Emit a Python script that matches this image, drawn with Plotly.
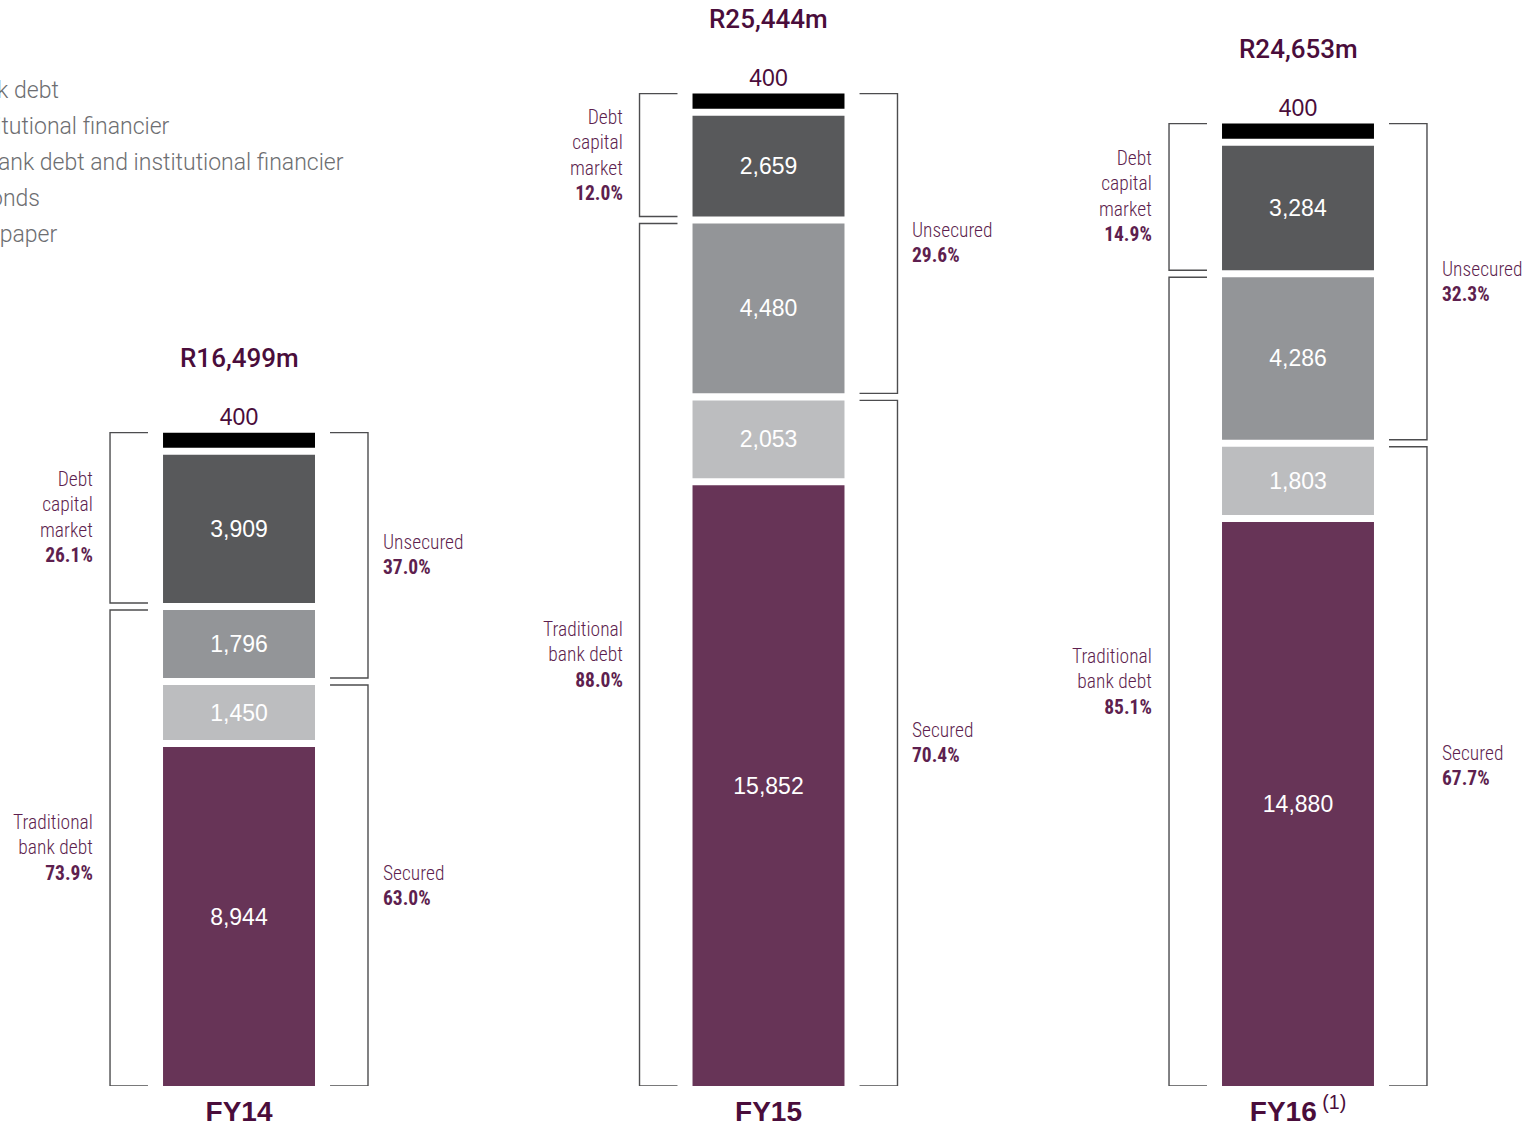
import plotly.graph_objects as go

# Funding mix by financial year (Rm), segments listed bottom to top
years = ["FY14", "FY15", "FY16"]
year_labels = ["<b>FY14</b>", "<b>FY15</b>", "<b>FY16</b><sup> (1)</sup>"]
secured_bank_debt = [8944, 15852, 14880]
secured_institutional = [1450, 2053, 1803]
unsecured_bank_institutional = [1796, 4480, 4286]
bonds = [3909, 2659, 3284]
commercial_paper = [400, 400, 400]

series_names = [
    "Secured bank debt",
    "Secured institutional financier",
    "Unsecured bank debt and institutional financier",
    "Corporate bonds",
    "Commercial paper",
]
series_values = [secured_bank_debt, secured_institutional,
                 unsecured_bank_institutional, bonds, commercial_paper]
series_colors = ["#673457", "#bcbdbf", "#939598", "#58595b", "#000000"]

# white separation between stacked segments, in value units
SEGMENT_GAP = 185
Y_MAX = 28654
BAR_WIDTH = 0.287

PURPLE_TEXT = "#5e1f4f"
PURPLE_DARK = "#4a0d3b"
NARROW = "Roboto Condensed, Liberation Sans Narrow, Arial Narrow, sans-serif"
SANS = "Liberation Sans, Arial, Helvetica, sans-serif"

xs = list(range(len(years)))
n_series = len(series_values)

# bases of each segment (cumulative values plus gaps)
bases = []
running = [0] * len(years)
for k, vals in enumerate(series_values):
    bases.append([running[i] + k * SEGMENT_GAP for i in xs])
    running = [running[i] + vals[i] for i in xs]
totals = running
stack_tops = [totals[i] + (n_series - 1) * SEGMENT_GAP for i in xs]

fig = go.Figure()
for k, (name, vals, col) in enumerate(zip(series_names, series_values, series_colors)):
    is_top = k == n_series - 1
    fig.add_trace(go.Bar(
        x=xs, y=vals, base=bases[k], name=name, width=BAR_WIDTH,
        marker=dict(color=col, line=dict(width=0)),
        text=vals, texttemplate="%{text:,}",
        textposition="outside" if is_top else "inside",
        insidetextanchor="middle",
        textfont=dict(family=SANS, size=23,
                      color=PURPLE_DARK if is_top else "white"),
        cliponaxis=False,
        legendgroup=name,
    ))

# brackets and their captions
L_OUT, L_IN, R_IN, R_OUT = -0.2436, -0.1719, 0.1719, 0.2436
L_TEXT, R_TEXT = -0.2715, 0.2676
shapes = []
annotations = []


def bracket(x_tick, x_vert, y_top, y_bot):
    shapes.append(dict(
        type="path", xref="x", yref="y",
        path=f"M {x_tick},{y_top} L {x_vert},{y_top} L {x_vert},{y_bot} L {x_tick},{y_bot}",
        line=dict(color="#4d4d4f", width=1.4),
    ))


def caption(x, y, words, pct, anchor):
    text = "<br>".join(words + [f"<b>{pct:.1f}%</b>"])
    annotations.append(dict(
        x=x, y=y, xref="x", yref="y", text=text, showarrow=False,
        xanchor=anchor, yanchor="middle", align=anchor,
        font=dict(family=NARROW, size=19.5, color=PURPLE_TEXT, weight=300),
    ))


for i in xs:
    v0, v1, v2, v3, v4 = (s[i] for s in series_values)
    top = stack_tops[i]
    total = totals[i]

    dcm_bot = bases[3][i]
    trad_top = bases[2][i] + v2
    unsec_bot = bases[2][i]
    sec_top = bases[1][i] + v1

    bracket(i + L_IN, i + L_OUT, top, dcm_bot)
    bracket(i + L_IN, i + L_OUT, trad_top, 0)
    bracket(i + R_IN, i + R_OUT, top, unsec_bot)
    bracket(i + R_IN, i + R_OUT, sec_top, 0)

    caption(i + L_TEXT, (top + dcm_bot) / 2, ["Debt", "capital", "market"],
            100 * (v3 + v4) / total, "right")
    caption(i + L_TEXT, trad_top / 2, ["Traditional", "bank debt"],
            100 * (v0 + v1 + v2) / total, "right")
    caption(i + R_TEXT, (top + unsec_bot) / 2, ["Unsecured"],
            100 * (v2 + v3 + v4) / total, "left")
    caption(i + R_TEXT, sec_top / 2, ["Secured"],
            100 * (v0 + v1) / total, "left")

    annotations.append(dict(
        x=i, y=top, xref="x", yref="y", text=f"R{total:,}m", showarrow=False,
        xanchor="center", yanchor="middle", yshift=75,
        font=dict(family="Roboto, " + SANS, size=26, color=PURPLE_DARK, weight=500),
    ))

fig.update_layout(
    width=1526, height=1126,
    margin=dict(l=0, r=0, t=0, b=40, autoexpand=False),
    paper_bgcolor="white", plot_bgcolor="white",
    barmode="overlay",
    shapes=shapes, annotations=annotations,
    showlegend=True,
    legend=dict(
        x=-0.1104, y=1 - 68 / 1086, xanchor="left", yanchor="top",
        traceorder="grouped", tracegroupgap=3,
        font=dict(family="Roboto, " + SANS, size=23, color="#6d6e71", weight=300),
        bgcolor="rgba(0,0,0,0)",
    ),
    xaxis=dict(
        range=[-0.4514, 2.4306], tickvals=xs, ticktext=year_labels,
        showgrid=False, zeroline=False, showline=False, ticks="",
        ticklabelstandoff=6,
        tickfont=dict(family=SANS, size=28, color=PURPLE_DARK),
        fixedrange=True,
    ),
    yaxis=dict(range=[0, Y_MAX], visible=False, fixedrange=True),
    uniformtext=dict(mode=False),
)

fig.write_html("out.html")
